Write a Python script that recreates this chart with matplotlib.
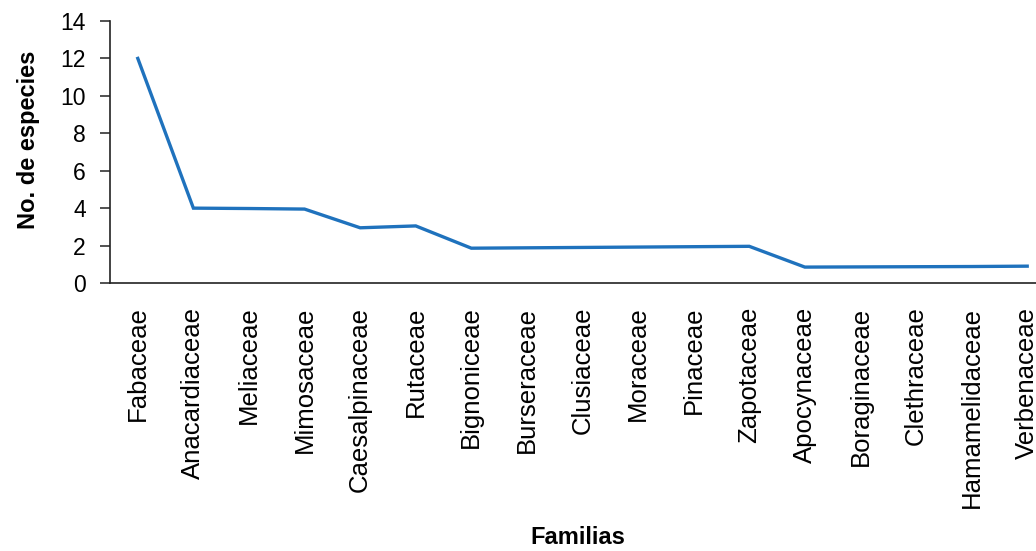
import matplotlib
matplotlib.use("Agg")
import matplotlib.pyplot as plt

plt.rcParams['font.family'] = ['Liberation Sans', 'DejaVu Sans']

# datos
familias = ['Fabaceae', 'Anacardiaceae', 'Meliaceae', 'Mimosaceae', 'Caesalpinaceae',
            'Rutaceae', 'Bignoniceae', 'Burseraceae', 'Clusiaceae', 'Moraceae',
            'Pinaceae', 'Zapotaceae', 'Apocynaceae', 'Boraginaceae', 'Clethraceae',
            'Hamamelidaceae', 'Verbenaceae']
especies = [12, 4.0, 3.98, 3.95, 2.95, 3.05, 1.86, 1.88, 1.9, 1.92, 1.94, 1.96,
            0.85, 0.86, 0.87, 0.88, 0.9]
y_ticks = [0, 2, 4, 6, 8, 10, 12, 14]

W, H = 1036, 551
fig = plt.figure(figsize=(W / 100, H / 100), dpi=100)
# el eje se sale por la derecha como en el original
ax = fig.add_axes([110 / W, 1 - 283 / H, (1055 - 110) / W, (283 - 21) / H])

x = list(range(len(familias)))
ax.plot(x, especies, color='#1f72bd', linewidth=2.4, solid_joinstyle='miter')

ax.set_xlim(-0.5, len(familias) - 0.5)
ax.set_ylim(0, 14)
ax.set_yticks(y_ticks)
ax.set_yticklabels([str(v) for v in y_ticks], fontsize=16.5)
ax.set_xticks(x)
ax.set_xticklabels(familias, rotation=90, fontsize=18.5, va='top', ha='center')

ax.tick_params(axis='y', direction='out', length=7.5, width=1.1, pad=10, color='#222222')
ax.tick_params(axis='x', length=0, pad=17)

for s in ['top', 'right']:
    ax.spines[s].set_visible(False)
for s in ['left', 'bottom']:
    ax.spines[s].set_linewidth(1.2)
    ax.spines[s].set_color('#222222')

fig.text(29 / W, 1 - 140 / H, 'No. de especies', rotation=90, fontsize=17,
         fontweight='bold', ha='center', va='center')
fig.text(578 / W, 1 - 537 / H, 'Familias', fontsize=17, fontweight='bold',
         ha='center', va='center')

fig.savefig('out.png', dpi=100)
